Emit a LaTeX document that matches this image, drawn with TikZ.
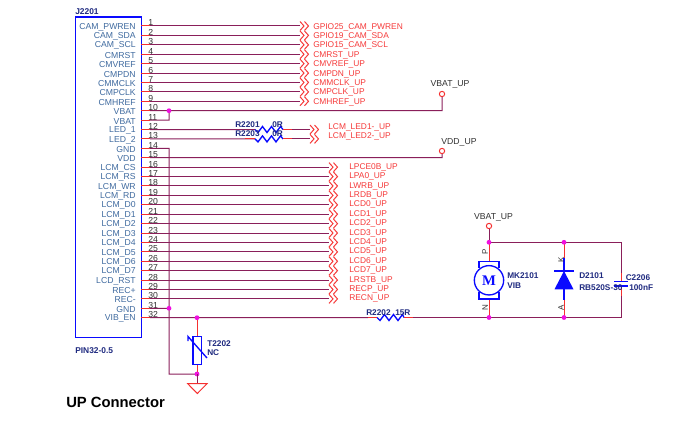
\documentclass[tikz,border=0pt]{standalone}
\usepackage{fontspec}
\setmainfont{Liberation Sans}
\definecolor{wirec}{HTML}{8A1F5A}
\definecolor{stubc}{HTML}{F53030}
\definecolor{pinlab}{HTML}{3F6A9F}
\definecolor{bluec}{HTML}{0A0AFF}
\definecolor{navyc}{HTML}{1F2A80}
\definecolor{netc}{HTML}{F53A3A}
\definecolor{greyt}{HTML}{303030}
\definecolor{junc}{HTML}{F010E0}
\tikzset{
  x=0.75pt,y=-0.75pt,
  wire/.style={draw=wirec,line width=0.75pt,line join=miter},
  stub/.style={draw=stubc,line width=0.75pt},
  comp/.style={draw=bluec,line width=1pt},
  pinname/.style={anchor=east,inner sep=0pt,text=pinlab,font=\fontsize{6.5}{7}\selectfont},
  pinnum/.style={anchor=west,inner sep=0pt,text=greyt,font=\fontsize{6.5}{7}\selectfont},
  netlab/.style={anchor=west,inner sep=0pt,text=netc,font=\fontsize{6.3}{7}\selectfont},
  power/.style={inner sep=0pt,text=greyt,font=\fontsize{6.5}{7}\selectfont},
  reflab/.style={anchor=west,inner sep=0pt,text=navyc,font=\fontsize{6.2}{7}\bfseries\selectfont},
  jdot/.style={circle,fill=junc,inner sep=0pt,minimum size=3.6pt},
  opencirc/.style={circle,draw=stubc,fill=white,line width=0.75pt,inner sep=0pt,minimum size=4pt},
  rotlab/.style={inner sep=0pt,rotate=90,text=greyt,font=\fontsize{6}{7}\selectfont},
}
\newcommand{\chev}[2]{% x,y : offpage connector
  \draw[draw=netc,line width=0.75pt] (#1,#2-4.5) -- ++(4,4.5) -- ++(-4,4.5)
    (#1+4.5,#2-4.5) -- ++(4,4.5) -- ++(-4,4.5);}
\newcommand{\zig}[3]{% x1,x2,y
  \draw[comp] (#1,#3) -- ++(3,3) -- ++(4.5,-6) -- ++(4.5,6) -- ++(4.5,-6) -- ++(4.5,6) -- ++(4.5,-6) -- (#2,#3);}
\begin{document}
\begin{tikzpicture}
\useasboundingbox (0,0) rectangle (675,428);
% connector box
\node[draw=bluec,line width=1pt,minimum width=49.9pt,minimum height=240pt,inner sep=0pt,anchor=north west] (J) at (74.5,16.5) {};
\node[anchor=west,inner sep=0pt,text=navyc,font=\fontsize{6.3}{7}\bfseries\selectfont] (jref) at (75,12) {J2201};
\node[anchor=west,inner sep=0pt,text=navyc,font=\fontsize{6.3}{7}\bfseries\selectfont] (jval) at (75,351) {PIN32-0.5};
\node[anchor=west,inner sep=0pt,text=black,font=\fontsize{11.1}{12}\bfseries\selectfont] (title) at (66,402) {UP Connector};
% pins
\foreach \i/\n in {1/CAM\_PWREN,2/CAM\_SDA,3/CAM\_SCL,4/CMRST,5/CMVREF,6/CMPDN,7/CMMCLK,8/CMPCLK,9/CMHREF,10/VBAT,11/VBAT,12/LED\_1,13/LED\_2,14/GND,15/VDD,16/LCM\_CS,17/LCM\_RS,18/LCM\_WR,19/LCM\_RD,20/LCM\_D0,21/LCM\_D1,22/LCM\_D2,23/LCM\_D3,24/LCM\_D4,25/LCM\_D5,26/LCM\_D6,27/LCM\_D7,28/LCD\_RST,29/REC+,30/REC-,31/GND,32/VIB\_EN}{
  \pgfmathsetmacro{\yy}{26+9.41*(\i-1)}
  \coordinate (p\i) at (141,\yy);
  \coordinate (q\i) at (150,\yy);
  \node[pinname] (pn\i) at (136,\yy+1) {\n};
  \node[pinnum] (pm\i) at (148,\yy-3) {\i};
  \draw[stub] (p\i) -- (q\i);
}
% group 1
\foreach \i/\n in {1/GPIO25\_CAM\_PWREN,2/GPIO19\_CAM\_SDA,3/GPIO15\_CAM\_SCL,4/CMRST\_UP,5/CMVREF\_UP,6/CMPDN\_UP,7/CMMCLK\_UP,8/CMPCLK\_UP,9/CMHREF\_UP}{
  \pgfmathsetmacro{\yy}{26+9.41*(\i-1)}
  \coordinate (e\i) at (300,\yy);
  \draw[wire] (q\i) -- (e\i);
  \chev{300}{\yy}
  \node[netlab] (nl\i) at (313,\yy+1) {\n};
}
% group 2
\foreach \i/\n in {16/LPCE0B\_UP,17/LPA0\_UP,18/LWRB\_UP,19/LRDB\_UP,20/LCD0\_UP,21/LCD1\_UP,22/LCD2\_UP,23/LCD3\_UP,24/LCD4\_UP,25/LCD5\_UP,26/LCD6\_UP,27/LCD7\_UP,28/LRSTB\_UP,29/RECP\_UP,30/RECN\_UP}{
  \pgfmathsetmacro{\yy}{26+9.41*(\i-1)}
  \coordinate (e\i) at (329,\yy);
  \draw[wire] (q\i) -- (e\i);
  \chev{329}{\yy}
  \node[netlab] (nl\i) at (349,\yy) {\n};
}
% power VBAT
\node[opencirc] (vb1) at (442,94) {};
\node[power,anchor=center] (vb1l) at (450,84) {VBAT\_UP};
\coordinate (j10) at (169,110.7);
\draw[wire] (q10) -- (j10) -- (442,110.7) -- (vb1);
\draw[wire] (q11) -- (169,120.1) -- (j10);
\node[jdot] (d10) at (j10) {};
% power VDD
\node[opencirc] (vd1) at (442,151) {};
\node[power,anchor=center] (vd1l) at (459,142) {VDD\_UP};
\draw[wire] (q15) -- (442,157.7) -- (vd1);
% LED resistors
\coordinate (r1a) at (255,129.5); \coordinate (r1b) at (283,129.5);
\coordinate (r3a) at (255,138.9); \coordinate (r3b) at (283,138.9);
\draw[wire] (q12) -- (r1a);
\draw[wire] (q13) -- (r3a);
\draw[stub] (245,138.9) -- (r3a);
\zig{255}{283}{129.5}
\zig{255}{283}{138.9}
\draw[stub] (r1b) -- (292,129.5);
\draw[stub] (r3b) -- (292,138.9);
\draw[wire] (292,129.5) -- (310,129.5);
\draw[wire] (292,138.9) -- (310,138.9);
\chev{310}{129.5}
\chev{310}{138.9}
\node[netlab] (led1) at (328,127) {LCM\_LED1-\_UP};
\node[netlab] (led2) at (328,136) {LCM\_LED2-\_UP};
\node[reflab] (r1r) at (235,125) {R2201};
\node[reflab] (r3r) at (235,134) {R2203};
\node[reflab] (r1v) at (272,125) {0R};
\node[reflab] (r3v) at (272,134) {0R};
% GND rail
\coordinate (j31) at (169,308.3);
\coordinate (jg) at (197,374);
\draw[wire] (q14) -- (169,148.3) -- (j31) -- (169,374) -- (jg);
\draw[wire] (q31) -- (j31);
\node[jdot] (d31) at (j31) {};
% pin 32 wire
\coordinate (j32) at (197,317.7);
\coordinate (jma) at (489,317.5);
\coordinate (jda) at (564,317.5);
\coordinate (cb) at (621,317.5);
\draw[wire] (q32) -- (j32) -- (368,317.5);
\draw[stub] (368,317.5) -- (377,317.5);
\zig{377}{404}{317.5}
\draw[stub] (404,317.5) -- (413,317.5);
\draw[wire] (413,317.5) -- (jma) -- (jda) -- (cb) -- (621,296);
\node[reflab] (r2r) at (366,312.5) {R2202};
\node[reflab] (r2v) at (395,312.5) {15R};
% T2202
\draw[stub] (j32) -- (197,336.7);
\draw[stub] (197,364.7) -- (jg);
\draw[comp,fill=white] (193,336.7) rectangle (201.5,364.7);
\draw[comp] (188,341) -- (188,336.5) -- (207,358);
\node[reflab] (tr) at (207,344) {T2202};
\node[reflab] (tv) at (207,353) {NC};
\node[jdot] (d32) at (j32) {};
\node[jdot] (dg) at (jg) {};
% ground
\draw[wire] (jg) -- (197,383.7);
\draw[draw=stubc,line width=0.75pt] (187.7,383.7) -- (207,383.7) -- (197.3,393.5) -- cycle;
% top rail
\coordinate (jmt) at (489,242.3);
\coordinate (jdt) at (564,242.3);
\coordinate (ct) at (621,242.3);
\node[opencirc] (vb2) at (489,226) {};
\node[power,anchor=center] (vb2l) at (493.5,217) {VBAT\_UP};
\draw[wire] (vb2) -- (jmt);
\draw[wire] (jmt) -- (jdt) -- (ct) -- (621,273);
\draw[stub] (621,273) -- (621,281.7);
\draw[stub] (621,286) -- (621,296);
\draw[comp] (614,281.7) -- (628,281.7);
\draw[comp] (614,286) -- (628,286);
\node[reflab] (cr) at (625.5,278) {C2206};
\node[reflab] (cv) at (629,288) {100nF};
% motor
\draw[stub] (jmt) -- (489,262);
\draw[stub] (489,299) -- (jma);
\draw[comp] (479,268) -- (479,261.7) -- (499,261.7) -- (499,268);
\draw[comp] (479,292) -- (479,299) -- (499,299) -- (499,292);
\node[circle,draw=bluec,line width=1pt,fill=white,minimum size=22pt,inner sep=0pt,text=bluec,font=\fontsize{11}{12}\bfseries\selectfont\fontspec{Liberation Serif}] (mot) at (489,280.3) {M};
\node[rotlab] (mp) at (485,252) {P};
\node[rotlab] (mn) at (485,308) {N};
\node[reflab] (mr) at (507,275.5) {MK2101};
\node[reflab] (mv) at (507,285.5) {VIB};
% diode
\draw[stub] (jdt) -- (564,271);
\draw[stub] (564,289) -- (jda);
\draw[comp] (564,258) -- (564,271) (564,289) -- (564,300);
\draw[comp] (554,271) -- (574,271);
\fill[bluec] (554.5,289.3) -- (573.5,289.3) -- (564,271) -- cycle;
\node[rotlab] (dk) at (561,260) {K};
\node[rotlab] (da) at (561,308) {A};
\node[reflab] (dr) at (579,275.5) {D2101};
\node[reflab] (dv) at (579,287.5) {RB520S-30};
\node[jdot] (d1) at (jmt) {};
\node[jdot] (d2) at (jdt) {};
\node[jdot] (d3) at (jma) {};
\node[jdot] (d4) at (jda) {};
\end{tikzpicture}
\end{document}
